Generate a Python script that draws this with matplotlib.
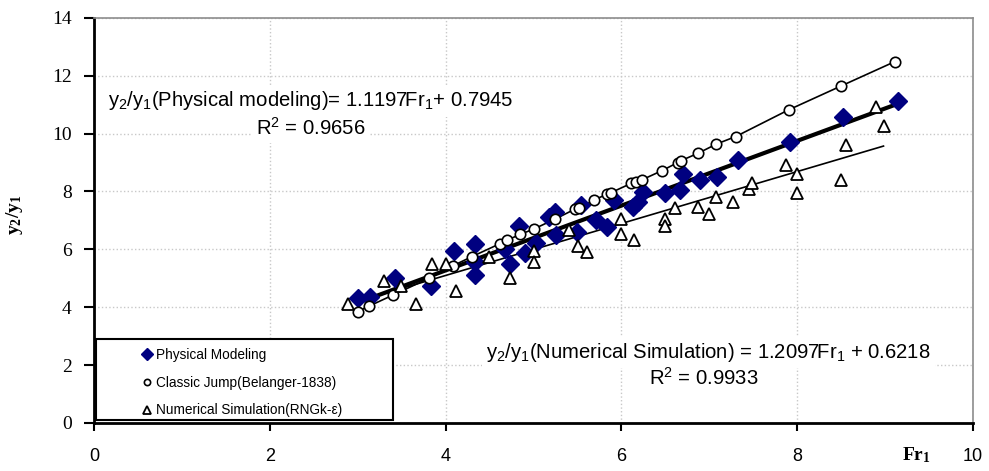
import numpy as np
import matplotlib
matplotlib.use("Agg")
import matplotlib.pyplot as plt
from matplotlib.patches import Rectangle

plt.rcParams["mathtext.fontset"] = "custom"
plt.rcParams["mathtext.rm"] = "Liberation Sans"
plt.rcParams["mathtext.bf"] = "Liberation Serif:bold"
plt.rcParams["font.family"] = "Liberation Sans"

# Physical modeling (diamonds)
phys_x = [3.0, 3.14, 3.42, 3.83, 4.1, 4.33, 4.33, 4.33, 4.67, 4.73, 4.83, 4.9,
          5.03, 5.18, 5.24, 5.26, 5.49, 5.54, 5.71, 5.84, 5.92, 6.13, 6.19, 6.24,
          6.49, 6.66, 6.70, 6.89, 7.09, 7.32, 7.92, 8.52, 9.14]
phys_y = [4.33, 4.35, 5.02, 4.75, 5.95, 6.17, 5.55, 5.12, 6.02, 5.5, 6.8, 5.88,
          6.22, 7.13, 7.28, 6.5, 6.6, 7.52, 7.02, 6.78, 7.71, 7.48, 7.65, 7.98,
          7.94, 8.05, 8.62, 8.4, 8.5, 9.1, 9.7, 10.57, 11.13]

# Classic jump, Belanger 1838 (circles)
clas_x = [3.0, 3.13, 3.40, 3.81, 4.08, 4.30, 4.62, 4.70, 4.85, 5.0, 5.24, 5.47,
          5.52, 5.69, 5.83, 5.88, 6.11, 6.17, 6.23, 6.46, 6.64, 6.68, 6.87, 7.08,
          7.30, 7.90, 8.50, 9.11]
clas_y = [3.85, 4.04, 4.42, 5.0, 5.43, 5.75, 6.2, 6.32, 6.52, 6.7, 7.04, 7.39,
          7.42, 7.71, 7.90, 7.96, 8.28, 8.34, 8.40, 8.72, 9.0, 9.07, 9.32, 9.64,
          9.90, 10.82, 11.65, 12.49]

# Numerical simulation RNG k-eps (triangles)
num_x = [2.89, 3.30, 3.49, 3.66, 3.85, 4.0, 4.12, 4.49, 4.73, 5.0, 5.0, 5.4,
         5.5, 5.61, 6.0, 6.0, 6.14, 6.5, 6.5, 6.61, 6.87, 7.0, 7.08, 7.27, 7.45,
         7.49, 7.87, 8.0, 8.0, 8.5, 8.55, 8.9, 8.99]
num_y = [4.11, 4.92, 4.74, 4.11, 5.5, 5.5, 4.57, 5.73, 5.0, 5.95, 5.55, 6.67,
         6.12, 5.9, 7.04, 6.52, 6.32, 7.04, 6.81, 7.42, 7.48, 7.21, 7.8, 7.62,
         8.1, 8.28, 8.92, 8.61, 7.94, 8.4, 9.61, 10.91, 10.27]

# trendlines
phys_slope, phys_icpt = 1.1197, 0.7945
phys_fit_x = [3.02, 9.12]
num_fit_x = [3.0, 8.98]
num_fit_y = [4.2, 9.57]

x_ticks = [0, 2, 4, 6, 8, 10]
y_ticks = [0, 2, 4, 6, 8, 10, 12, 14]

fig = plt.figure(figsize=(9.89, 4.71), dpi=100)
ax = fig.add_axes([0.095, 0.102, 0.889, 0.860])
ax.set_xlim(0, 10)
ax.set_ylim(0, 14)
ax.set_xticks(x_ticks)
ax.set_yticks(y_ticks)
ax.grid(True, color="#c8c8c8", linestyle=":", linewidth=1.0)
ax.set_axisbelow(True)

for s in ["left", "bottom"]:
    ax.spines[s].set_linewidth(2)
    ax.spines[s].set_color("black")
for s in ["top", "right"]:
    ax.spines[s].set_linewidth(1.2)
    ax.spines[s].set_color("#8c8c8c")

ax.tick_params(axis="x", length=6, width=1.5, pad=12, labelsize=13)
ax.tick_params(axis="y", length=7, width=1.5, pad=9, labelsize=14)
for lab in ax.get_yticklabels():
    lab.set_fontfamily("Liberation Serif")

# lines
fx = np.array(phys_fit_x)
ax.plot(fx, phys_slope * fx + phys_icpt, color="black", lw=3, zorder=3)
ax.plot(clas_x, clas_y, color="black", lw=1.2, zorder=3)
ax.plot(num_fit_x, num_fit_y, color="black", lw=1.2, zorder=3)

# markers
ax.plot(phys_x, phys_y, ls="none", marker="D", ms=9.5, color="#000080",
        mec="#000080", zorder=4, label="Physical Modeling")
ax.plot(clas_x, clas_y, ls="none", marker="o", ms=7.5, mfc="white",
        mec="black", mew=1.2, zorder=5, label="Classic Jump(Belanger-1838)")
ax.plot(num_x, num_y, ls="none", marker="^", ms=9, mfc="white",
        mec="black", mew=1.3, zorder=5,
        label="Numerical Simulation(RNGk-\u03b5)")

box = dict(facecolor="white", edgecolor="none", pad=3)
eq_size = 14.6
ax.text(2.466, 11.13, r"y$_2$/y$_1$(Physical modeling)= 1.1197Fr$_1$+ 0.7945",
        ha="center", va="center", fontsize=eq_size, bbox=box, zorder=6)
ax.text(2.466, 10.2, r"R$^2$ = 0.9656", ha="center", va="center",
        fontsize=eq_size, bbox=box, zorder=6)
ax.text(6.99, 2.45, r"y$_2$/y$_1$(Numerical Simulation) = 1.2097Fr$_1$ + 0.6218",
        ha="center", va="center", fontsize=eq_size, bbox=box, zorder=6)
ax.text(6.94, 1.56, r"R$^2$ = 0.9933", ha="center", va="center",
        fontsize=eq_size, bbox=box, zorder=6)

# legend box
ax.add_patch(Rectangle((0.002, 0.007), 0.338, 0.2, transform=ax.transAxes,
                       facecolor="white", edgecolor="black", lw=1.5, zorder=7))
leg = ax.legend(loc="upper left", bbox_to_anchor=(0.054, 0.186), frameon=False,
                fontsize=9.8, handlelength=0.8, handletextpad=0.3,
                labelspacing=1.02, borderpad=0, borderaxespad=0, markerscale=0.6)
leg.set_zorder(8)

ax.set_ylabel(r"$\mathbf{y_2/y_1}$", fontsize=14)
ax.yaxis.set_label_coords(-0.078, 0.514)
ax.text(0.936, -0.079, r"$\mathbf{Fr_1}$", transform=ax.transAxes,
        ha="center", va="center", fontsize=14)

fig.savefig("out.png", dpi=100)
